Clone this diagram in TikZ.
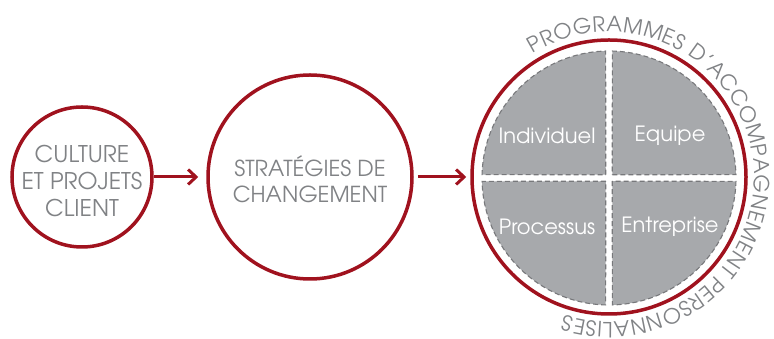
\documentclass[tikz,border=0pt]{standalone}
\usepackage{fontspec}
\setmainfont{TeX Gyre Adventor}
\usetikzlibrary{positioning}
\usetikzlibrary{arrows.meta}
\usetikzlibrary{decorations.text}
\usepackage{xcolor}
\definecolor{ringred}{RGB}{160,18,30}
\definecolor{quadgray}{RGB}{167,169,172}
\definecolor{dashgray}{RGB}{119,120,123}
\definecolor{txtgray}{RGB}{128,130,133}

\tikzset{
  ring/.style={circle, draw=ringred, line width=3.5pt, inner sep=0pt},
  ringtext/.style={align=center, text=txtgray, inner sep=0pt},
  link/.style={draw=ringred, line width=3pt,
    -{Straight Barb[length=8pt, width=15pt]}},
  quadrant/.style={fill=quadgray, draw=dashgray, line width=1.1pt,
    dash pattern=on 5pt off 3pt},
  quadlabel/.style={text=white, font=\fontsize{21}{22}\selectfont}
}

\begin{document}
\begin{tikzpicture}[x=1pt,y=1pt]
  \useasboundingbox (0,0) rectangle (774,339);

  % the three stages
  \node[ring, minimum size=140pt] (culture) at (82,162) {};
  \node[ring, minimum size=204pt] (strategies) at (310,162) {};
  \node[ring, minimum size=274pt] (programmes) at (609,162) {};

  \node[ringtext, font=\fontsize{23}{27}\selectfont] (culturetext)
    at ([yshift=-4pt]culture.center) {CULTURE\\ ET PROJETS\\ CLIENT};
  \node[ringtext, font=\fontsize{22}{26}\selectfont] (strategiestext)
    at ([yshift=-2pt]strategies.center) {STRAT\'EGIES DE\\ CHANGEMENT};

  \draw[link, shorten >=8pt] (culture) -- (strategies);
  \draw[link, shorten <=4pt, shorten >=4pt] (strategies) -- (programmes);

  % four quadrants
  \coordinate (disc) at (609,161);
  \foreach \b in {0,90,180,270}
    \filldraw[quadrant, shift={(disc)}] (\b+45:4.6) -- (\b+1.5:127)
      arc[start angle=\b+1.5, end angle=\b+88.5, radius=127] -- cycle;

  \node[quadlabel] (individuel) at (547,203) {Individuel};
  \node[quadlabel] (equipe) at (670,203) {Equipe};
  \node[quadlabel] (processus) at (547,112) {Processus};
  \node[quadlabel] (entreprise) at (670,112) {Entreprise};

  % text round the ring
  \path[decorate, decoration={text along path, text align={fit to path},
      text={|\fontsize{21}{21}\selectfont\color{txtgray}|PROGRAMMES D'ACCOMPAGNEMENT PERSONNALISES}}]
    (programmes.center) ++(121.6:145) arc[start angle=121.6, end angle=-107.8, radius=145];
\end{tikzpicture}
\end{document}
